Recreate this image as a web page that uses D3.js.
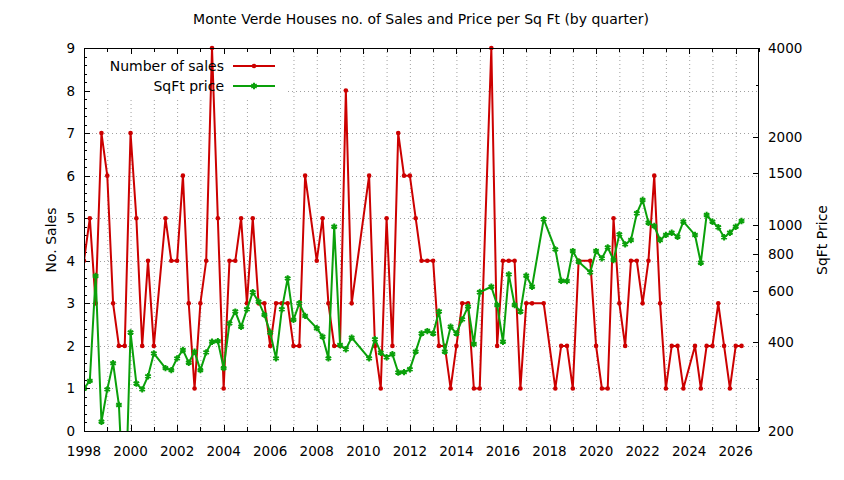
<!DOCTYPE html>
<html><head><meta charset="utf-8">
<script src="https://cdn.jsdelivr.net/npm/d3@7"></script>
<style>body{margin:0;background:#fff}text{font-family:"DejaVu Sans",sans-serif;fill:#000}</style>
</head><body>
<svg id="c" width="844" height="480"></svg>
<script>
const quarters = [1998.00,1998.25,1998.50,1998.75,1999.00,1999.25,1999.50,1999.75,2000.00,2000.25,2000.50,2000.75,2001.00,2001.50,2001.75,2002.00,2002.25,2002.50,2002.75,2003.00,2003.25,2003.50,2003.75,2004.00,2004.25,2004.50,2004.75,2005.00,2005.25,2005.50,2005.75,2006.00,2006.25,2006.50,2006.75,2007.00,2007.25,2007.50,2008.00,2008.25,2008.50,2008.75,2009.00,2009.25,2009.50,2010.25,2010.50,2010.75,2011.00,2011.25,2011.50,2011.75,2012.00,2012.25,2012.50,2012.75,2013.00,2013.25,2013.50,2013.75,2014.00,2014.25,2014.50,2014.75,2015.00,2015.50,2015.75,2016.00,2016.25,2016.50,2016.75,2017.00,2017.25,2017.75,2018.25,2018.50,2018.75,2019.00,2019.25,2019.75,2020.00,2020.25,2020.50,2020.75,2021.00,2021.25,2021.50,2021.75,2022.00,2022.25,2022.50,2022.75,2023.00,2023.25,2023.50,2023.75,2024.25,2024.50,2024.75,2025.00,2025.25,2025.50,2025.75,2026.00,2026.25];
const sales = [4,5,3,7,6,3,2,2,7,5,2,4,2,5,4,4,6,3,1,3,4,9,5,1,4,4,5,3,5,3,3,2,3,3,3,2,2,6,4,5,3,2,2,8,3,6,2,1,5,2,7,6,6,5,4,4,4,2,2,1,2,3,3,1,1,9,2,4,4,4,1,3,3,3,1,2,2,1,4,4,2,1,1,5,3,2,4,4,3,4,6,3,1,2,2,1,2,1,2,2,3,2,1,2,2];
const sqftPrice = [279,296,672,215,277,340,245,95,432,290,277,307,367,327,322,353,377,341,372,322,370,402,404,327,464,509,452,518,592,550,496,432,353,518,660,477,543,492,447,418,353,988,392,379,415,353,410,369,356,365,316,317,324,372,429,437,429,509,372,452,429,479,529,395,592,618,536,402,681,536,509,674,618,1048,828,648,646,817,752,692,817,772,841,762,931,861,891,1098,1218,1020,994,891,927,943,914,1028,927,746,1083,1028,984,910,943,988,1034];
const xTickYears = [1998,2000,2002,2004,2006,2008,2010,2012,2014,2016,2018,2020,2022,2024,2026];
const yTicks = [0,1,2,3,4,5,6,7,8,9];
const y2Ticks = [200,400,600,800,1000,1500,2000,4000];
const y2Minor = [300,500,700,900,3000];
const title = "Monte Verde Houses no. of Sales and Price per Sq Ft (by quarter)";

const L=84,R=759,T=48,B=431;
const svg=d3.select("#c");
const x=d3.scaleLinear().domain([1998,2027]).range([L,R]);
const y=d3.scaleLinear().domain([0,9]).range([B,T]);
const y2=d3.scaleLog().domain([200,4000]).range([B,T]);
const RED="#cc0000", GREEN="#0aa00a";

// grid
const g=svg.append("g").attr("stroke","#a0a0a0").attr("stroke-width",1).attr("stroke-dasharray","1,3");
d3.range(1999,2027).forEach(yr=>{g.append("line").attr("x1",x(yr)+0.5).attr("x2",x(yr)+0.5).attr("y1",T).attr("y2",B);});
yTicks.slice(1,9).forEach(v=>{g.append("line").attr("x1",L).attr("x2",R).attr("y1",Math.round(y(v))+0.5).attr("y2",Math.round(y(v))+0.5);});

// legend opaque box
svg.append("rect").attr("x",L+1).attr("y",T+1).attr("width",284-L).attr("height",96-T).attr("fill","#fff");

// axes ticks
const tk=svg.append("g").attr("stroke","#000").attr("stroke-width",1);
d3.range(1998,2028).forEach(yr=>{
  const len = yr%2===0?6:4, px=Math.round(x(yr))+0.5;
  tk.append("line").attr("x1",px).attr("x2",px).attr("y1",B).attr("y2",B-len);
  tk.append("line").attr("x1",px).attr("x2",px).attr("y1",T).attr("y2",T+len);
});
d3.range(0,9.01,0.2).forEach(v=>{
  const major=Math.abs(v-Math.round(v))<1e-6, py=Math.round(y(v))+0.5;
  tk.append("line").attr("x1",L).attr("x2",L+(major?6:3)).attr("y1",py).attr("y2",py);
});
y2Ticks.forEach(v=>{const py=Math.round(y2(v))+0.5;tk.append("line").attr("x1",R-6).attr("x2",R).attr("y1",py).attr("y2",py);});
y2Minor.forEach(v=>{const py=Math.round(y2(v))+0.5;tk.append("line").attr("x1",R-3).attr("x2",R).attr("y1",py).attr("y2",py);});

// tick labels
const fs="13.5px";
xTickYears.forEach(yr=>svg.append("text").attr("x",x(yr)).attr("y",456).attr("text-anchor","middle").style("font-size",fs).text(yr));
yTicks.forEach(v=>svg.append("text").attr("x",75).attr("y",y(v)+5).attr("text-anchor","end").style("font-size",fs).text(v));
y2Ticks.forEach(v=>svg.append("text").attr("x",768).attr("y",y2(v)+5).attr("text-anchor","start").style("font-size",fs).text(v));

svg.append("text").attr("x",421).attr("y",24).attr("text-anchor","middle").style("font-size","14px").text(title);
svg.append("text").attr("transform","translate(56,240) rotate(-90)").attr("text-anchor","middle").style("font-size","14px").text("No. Sales");
svg.append("text").attr("transform","translate(827,240) rotate(-90)").attr("text-anchor","middle").style("font-size","14px").text("SqFt Price");

// data
svg.append("clipPath").attr("id","clip").append("rect").attr("x",L).attr("y",0).attr("width",R-L).attr("height",B);
const dg=svg.append("g").attr("clip-path","url(#clip)");
const salesPts=quarters.map((q,i)=>[x(q),y(sales[i])]);
const pricePts=quarters.map((q,i)=>[x(q),y2(sqftPrice[i])]);
const line=d3.line();
dg.append("path").attr("d",line(salesPts)).attr("fill","none").attr("stroke",RED).attr("stroke-width",2).attr("stroke-linejoin","miter");
dg.selectAll(".rm").data(salesPts).join("circle").attr("cx",d=>d[0]).attr("cy",d=>d[1]).attr("r",2.3).attr("fill",RED);
dg.append("path").attr("d",line(pricePts)).attr("fill","none").attr("stroke",GREEN).attr("stroke-width",2).attr("stroke-linejoin","miter");
const star=d3.symbol().type(d3.symbolAsterisk).size(28);
dg.selectAll(".gm").data(pricePts).join("path").attr("d",star).attr("transform",d=>`translate(${d[0]},${d[1]})`).attr("fill","none").attr("stroke",GREEN).attr("stroke-width",2);

// legend
svg.append("text").attr("x",224).attr("y",71).attr("text-anchor","end").style("font-size","14px").text("Number of sales");
svg.append("text").attr("x",224).attr("y",91).attr("text-anchor","end").style("font-size","14px").text("SqFt price");
svg.append("line").attr("x1",233).attr("x2",275).attr("y1",66).attr("y2",66).attr("stroke",RED).attr("stroke-width",2);
svg.append("circle").attr("cx",254).attr("cy",66).attr("r",2.3).attr("fill",RED);
svg.append("line").attr("x1",233).attr("x2",275).attr("y1",86).attr("y2",86).attr("stroke",GREEN).attr("stroke-width",2);
svg.append("path").attr("d",star).attr("transform","translate(254,86)").attr("fill","none").attr("stroke",GREEN).attr("stroke-width",2);

// border
svg.append("rect").attr("x",L+0.5).attr("y",T+0.5).attr("width",R-L-1).attr("height",B-T).attr("fill","none").attr("stroke","#000").attr("stroke-width",1);
</script>
</body></html>
